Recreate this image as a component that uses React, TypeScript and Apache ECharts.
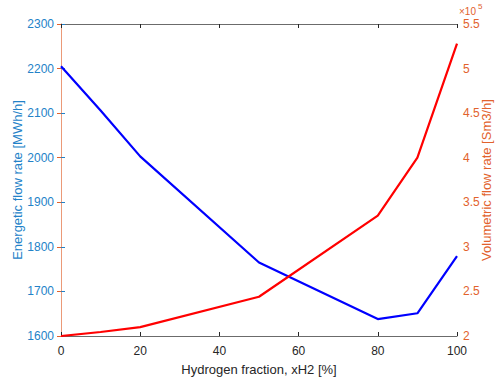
import React, { useEffect, useRef } from "react";
import * as echarts from "echarts";

const hydrogenFraction = [0, 10, 20, 50, 80, 90, 100];
const energeticFlow = [2205, 2106, 2003, 1765, 1638, 1651, 1779];
const volumetricFlow = [200000, 204500, 210000, 244000, 335000, 400000, 528000];

const BLUE_AXIS = "#2382c8";
const ORANGE_AXIS = "#e2622c";
const FONT = "Liberation Sans, Arial, Helvetica, sans-serif";

export default function App() {
  const ref = useRef<HTMLDivElement>(null);
  useEffect(() => {
    if (!ref.current) return;
    const chart = echarts.init(ref.current, undefined, { renderer: "svg" });
    const energetic = hydrogenFraction.map((x, i) => [x, energeticFlow[i]]);
    const volumetric = hydrogenFraction.map((x, i) => [x, volumetricFlow[i]]);
    chart.setOption({
      animation: false,
      backgroundColor: "#ffffff",
      textStyle: { fontFamily: FONT },
      grid: { left: 61, right: 43, top: 24, bottom: 47, containLabel: false, outerBoundsMode: "none" },
      xAxis: [
        {
          type: "value",
          min: 0,
          max: 100,
          interval: 20,
          position: "bottom",
          name: "Hydrogen fraction, xH2 [%]",
          nameLocation: "middle",
          nameGap: 27,
          nameMoveOverlap: false,
          nameTextStyle: { color: "#262626", fontSize: 13, fontFamily: FONT },
          axisLine: { lineStyle: { color: "#6b6b6b", width: 1 } },
          axisTick: { inside: true, length: 4, lineStyle: { color: "#262626" } },
          axisLabel: { color: "#262626", fontSize: 12, margin: 9, fontFamily: FONT },
          splitLine: { show: false },
        },
        {
          type: "value",
          min: 0,
          max: 100,
          interval: 20,
          position: "top",
          axisLine: { lineStyle: { color: "#6b6b6b", width: 1 } },
          axisTick: { inside: true, length: 4, lineStyle: { color: "#262626" } },
          axisLabel: { show: false },
          splitLine: { show: false },
        },
      ],
      yAxis: [
        {
          type: "value",
          min: 1600,
          max: 2300,
          interval: 100,
          position: "left",
          name: "Energetic flow rate [MWh/h]",
          nameLocation: "middle",
          nameGap: 37,
          nameMoveOverlap: false,
          nameTextStyle: { color: BLUE_AXIS, fontSize: 13, fontFamily: FONT },
          axisLine: { show: true, lineStyle: { color: "#7fb3dc", width: 1 } },
          axisTick: { show: true, inside: true, length: 4, lineStyle: { color: BLUE_AXIS } },
          axisLabel: {
            color: BLUE_AXIS,
            fontSize: 12,
            margin: 7,
            fontFamily: FONT,
            formatter: (v: number) => String(v),
          },
          splitLine: { show: false },
        },
        {
          type: "value",
          min: 200000,
          max: 550000,
          interval: 50000,
          position: "right",
          name: "Volumetric flow rate [Sm3/h]",
          nameLocation: "middle",
          nameGap: 23,
          nameMoveOverlap: false,
          nameTextStyle: { color: ORANGE_AXIS, fontSize: 13, fontFamily: FONT },
          axisLine: { show: true, lineStyle: { color: "#eb9a78", width: 1 } },
          axisTick: { show: true, inside: true, length: 4, lineStyle: { color: ORANGE_AXIS } },
          axisLabel: {
            color: ORANGE_AXIS,
            fontSize: 12,
            margin: 6,
            fontFamily: FONT,
            formatter: (v: number) => String(Math.round((v / 100000) * 10) / 10),
          },
          splitLine: { show: false },
        },
      ],
      graphic: [
        {
          type: "text",
          left: 459,
          top: 6,
          style: { text: "×10", fill: ORANGE_AXIS, fontSize: 10, fontFamily: FONT },
        },
        {
          type: "text",
          left: 478,
          top: 2,
          style: { text: "5", fill: ORANGE_AXIS, fontSize: 8, fontFamily: FONT },
        },
      ],
      series: [
        {
          type: "line",
          name: "Energetic",
          xAxisIndex: 0,
          yAxisIndex: 0,
          data: energetic,
          showSymbol: false,
          lineStyle: { color: "#0000FF", width: 2.2 },
          itemStyle: { color: "#0000FF" },
        },
        {
          type: "line",
          name: "Volumetric",
          xAxisIndex: 0,
          yAxisIndex: 1,
          data: volumetric,
          showSymbol: false,
          lineStyle: { color: "#FF0000", width: 2.2 },
          itemStyle: { color: "#FF0000" },
        },
      ],
    });
    return () => chart.dispose();
  }, []);
  return <div ref={ref} style={{ width: 500, height: 383, position: "absolute", left: 0, top: 0 }} />;
}
